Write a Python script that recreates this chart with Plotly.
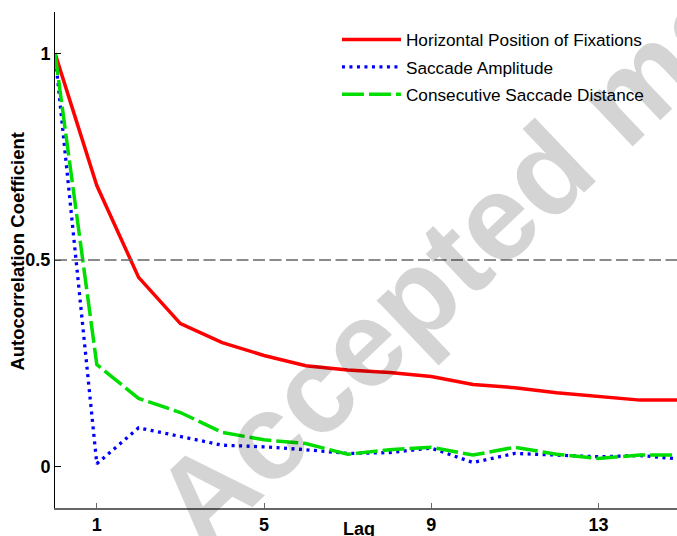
import plotly.graph_objects as go

lags = list(range(16))
horizontal_position = [1.0, 0.68, 0.458, 0.346, 0.30, 0.269, 0.244, 0.234, 0.228, 0.218,
                       0.199, 0.191, 0.179, 0.169, 0.161, 0.161]
saccade_amplitude = [1.0, 0.007, 0.094, 0.072, 0.052, 0.048, 0.041, 0.032, 0.034, 0.045,
                     0.010, 0.032, 0.028, 0.024, 0.027, 0.018]
saccade_distance = [1.0, 0.247, 0.165, 0.131, 0.083, 0.065, 0.056, 0.030, 0.041, 0.047,
                    0.028, 0.047, 0.030, 0.020, 0.028, 0.028]
series_names = ["Horizontal Position of Fixations", "Saccade Amplitude",
                "Consecutive Saccade Distance"]
x_ticks = [1, 5, 9, 13]
y_ticks = [0, 0.5, 1]
y_tick_labels = ["0", "0.5", "1"]

FONT = "Liberation Sans, Arial, sans-serif"

fig = go.Figure()
fig.add_trace(go.Scatter(x=lags, y=horizontal_position, mode="lines", name=series_names[0],
                         legendgroup="g1",
                         line=dict(color="#ff0000", width=3.5)))
fig.add_trace(go.Scatter(x=lags, y=saccade_amplitude, mode="lines", name=series_names[1],
                         legendgroup="g2",
                         line=dict(color="#0000ff", width=3.3, dash="3px,4.5px")))
fig.add_trace(go.Scatter(x=lags, y=saccade_distance, mode="lines", name=series_names[2],
                         legendgroup="g3",
                         line=dict(color="#00dd00", width=3.5, dash="22px,5px")))

fig.add_hline(y=0.5, line=dict(color="#666666", width=1.5, dash="12px,4.5px"))

# watermark
fig.add_annotation(text="Accepted manuscript", xref="paper", yref="paper",
                   x=0.916, y=0.831, xanchor="center", yanchor="middle",
                   showarrow=False, textangle=-43.5,
                   font=dict(family=FONT, size=122, color="rgba(0,0,0,0.17)", weight="bold"))

# axis titles placed like the original
fig.add_annotation(text="Lag", xref="paper", yref="paper", x=0.488, y=-0.042,
                   xanchor="center", yanchor="middle", showarrow=False,
                   font=dict(family=FONT, size=18, color="black", weight="bold"))
fig.add_annotation(text="Autocorrelation Coefficient", xref="paper", yref="paper",
                   x=-0.0603, y=0.518, xanchor="center", yanchor="middle",
                   showarrow=False, textangle=-90,
                   font=dict(family=FONT, size=18.5, color="black", weight="bold"))

fig.update_layout(
    width=677, height=536,
    margin=dict(l=55, r=0, t=12, b=28),
    plot_bgcolor="white", paper_bgcolor="white",
    font=dict(family=FONT, color="black"),
    showlegend=True,
    legend=dict(x=0.4533, y=0.980, xanchor="left", yanchor="top",
                bgcolor="rgba(0,0,0,0)", borderwidth=0, traceorder="grouped",
                font=dict(family=FONT, size=17.2, color="black"),
                itemwidth=59, tracegroupgap=2),
    xaxis=dict(range=[0, 14.88], tickvals=x_ticks, ticks="inside", ticklen=5,
               tickcolor="#666666", showline=True, linecolor="#666666", linewidth=1.7,
               showgrid=False, zeroline=False, mirror=False, automargin=False,
               tickfont=dict(size=18, weight="bold")),
    yaxis=dict(range=[-0.1, 1.1], tickvals=y_ticks, ticktext=y_tick_labels,
               ticks="inside", ticklen=6, tickcolor="black", showline=True,
               linecolor="black", linewidth=1, showgrid=False, zeroline=False,
               automargin=False, tickfont=dict(size=18, weight="bold")),
)

fig.write_html("out.html", config={"displayModeBar": False},
               post_script="document.body.style.margin='0';document.body.style.overflow='hidden';")
